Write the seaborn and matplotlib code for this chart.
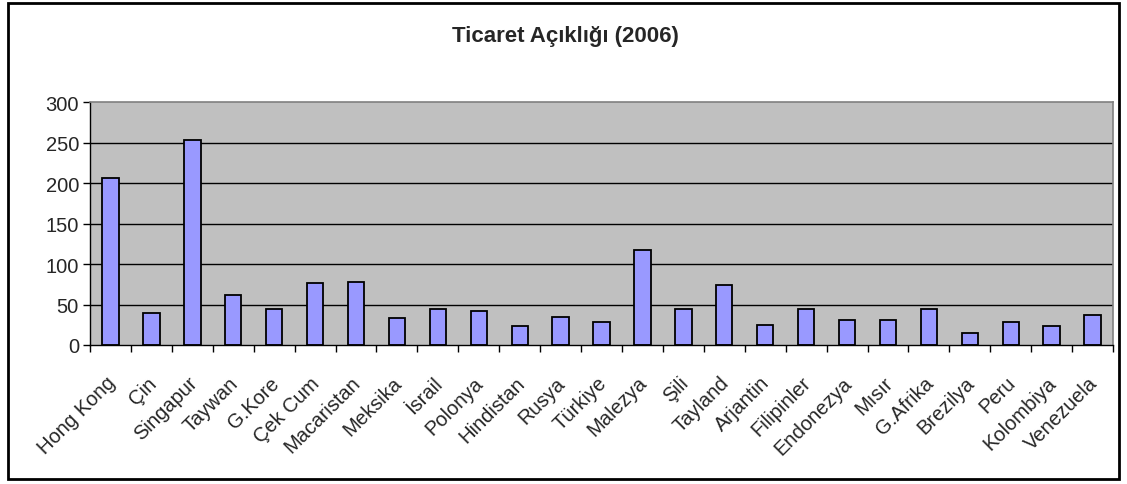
import matplotlib
matplotlib.use("Agg")
import matplotlib.pyplot as plt
import matplotlib.transforms as mtransforms
import seaborn as sns
import pandas as pd
from matplotlib.patches import Rectangle

ulkeler = ["Hong Kong", "Çin", "Singapur", "Taywan", "G.Kore", "Çek Cum", "Macaristan",
           "Meksika", "İsrail", "Polonya", "Hindistan", "Rusya", "Türkiye", "Malezya",
           "Şili", "Tayland", "Arjantin", "Filipinler", "Endonezya", "Mısır", "G.Afrika",
           "Brezilya", "Peru", "Kolombiya", "Venezuela"]
acikilik = [206, 39, 253, 62, 44, 76, 78, 33, 45, 42, 23, 35, 29, 117,
            45, 74, 25, 45, 31, 31, 44, 15, 29, 23, 37]
y_ticks = [0, 50, 100, 150, 200, 250, 300]

df = pd.DataFrame({"Ulke": ulkeler, "Oran": acikilik})

sns.set_style("white")
plt.rcParams["font.family"] = ["Liberation Sans", "DejaVu Sans"]

fig = plt.figure(figsize=(11.27, 4.85), dpi=100)
ax = fig.add_axes([0.0799, 0.2866, 0.9077, 0.5010])

sns.barplot(data=df, x="Ulke", y="Oran", color="#9999FF", saturation=1,
            edgecolor="black", linewidth=1.3, width=0.4, ax=ax)

ax.set_facecolor("#C0C0C0")
ax.set_ylim(0, 300)
ax.set_xlim(-0.5, len(ulkeler) - 0.5)
ax.set_yticks(y_ticks)
for y in y_ticks[1:-1]:
    ax.axhline(y, color="black", linewidth=1, zorder=0.5)
ax.set_axisbelow(True)

for side in ["top", "right"]:
    ax.spines[side].set_color("#808080")
    ax.spines[side].set_linewidth(1.2)
for side in ["left", "bottom"]:
    ax.spines[side].set_color("black")
    ax.spines[side].set_linewidth(1)

# Excel tarzi: x isaretleri kategoriler arasinda
ax.set_xticks([i - 0.5 for i in range(len(ulkeler) + 1)], minor=True)
ax.set_xticks(range(len(ulkeler)))
ax.set_xticklabels(ulkeler, rotation=45, ha="right", rotation_mode="anchor", fontsize=14.5)
ax.tick_params(axis="x", which="major", length=0, pad=20)
ax.tick_params(axis="x", which="minor", length=5, width=1, direction="out",
               color="black", bottom=True)
ax.tick_params(axis="y", length=5, width=1, direction="out", color="black",
               labelsize=14.5, pad=3, left=True)

kaydir = mtransforms.ScaledTranslation(-0.05, 0, fig.dpi_scale_trans)
for lbl in ax.get_xticklabels():
    lbl.set_transform(lbl.get_transform() + kaydir)

ax.set_xlabel("")
ax.set_ylabel("")

fig.text(0.502, 0.925, "Ticaret Açıklığı (2006)", ha="center", va="center",
         fontsize=16, fontweight="bold")

fig.patches.append(Rectangle((0.007, 0.01), 0.986, 0.982, transform=fig.transFigure,
                             fill=False, edgecolor="black", linewidth=2))

fig.savefig("out.png", dpi=100, facecolor="white")
